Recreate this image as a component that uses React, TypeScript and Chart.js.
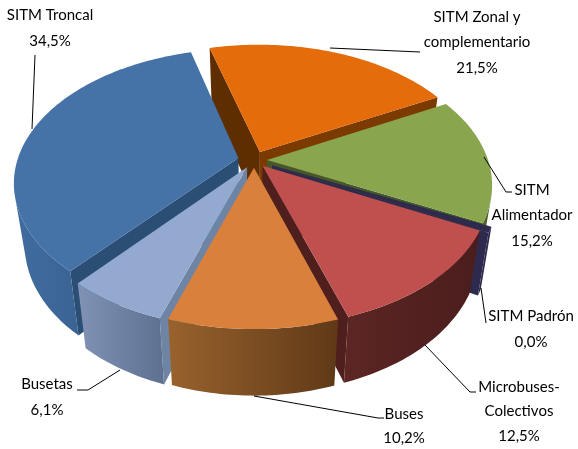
import React, { useEffect, useRef } from "react";
import { Chart, registerables } from "chart.js";

Chart.register(...registerables);

const categories = ["SITM Troncal", "SITM Zonal y complementario", "SITM Alimentador", "SITM Padrón", "Microbuses-Colectivos", "Buses", "Busetas"];
const shares = [34.5, 21.5, 15.2, 0.04, 12.5, 10.2, 6.1];
const explode = [16, 15, 13, 20, 13, 13, 14];
const topColors = ["#4572a7", "#e46c0a", "#89a54e", "#2e2a4e", "#c0504d", "#d9803c", "#93a9cf"];
const startFaceColors = ["#2b4e74", "#5f2e00", "#46582a", "#2e2a4e", "#4f1f1e", "#7a4a20", "#6e84a5"];
const endFaceColors = ["#2b4e74", "#7a3a00", "#46582a", "#2e2a4e", "#4f1f1e", "#7a4a20", "#6e84a5"];
const wallLeft = ["#416c9f", "#8a4507", "#55692f", "#2e2a4e", "#5c2624", "#99622d", "#8093b6"];
const wallRight = ["#2f5580", "#8a4507", "#4d612a", "#2e2a4e", "#4a1d1c", "#5f3917", "#5e7090"];

const labelLines = [
  ["SITM Troncal"],
  ["SITM Zonal y", "complementario"],
  ["SITM", "Alimentador"],
  ["SITM Padrón"],
  ["Microbuses-", "Colectivos"],
  ["Buses"],
  ["Busetas"],
];

const labelLayout = [
  { x: 50, y: 15, gap: 26, leader: [[35, 55], [32, 129]] },
  { x: 477, y: 17, gap: 25.5, leader: [[330, 48], [420, 52]] },
  { x: 532, y: 190, gap: 25.5, leader: [[484, 157], [506, 192], [512, 192]] },
  { x: 531, y: 316, gap: 26, leader: [[481, 288], [486, 323]] },
  { x: 519, y: 387, gap: 24.5, leader: [[425, 345], [470, 392], [476, 392]] },
  { x: 404, y: 414, gap: 24.5, leader: [[254, 396], [378, 418], [384, 418]] },
  { x: 47, y: 384, gap: 26, leader: [[120, 370], [88, 390], [77, 390]] },
];

const drawOrder = [1, 0, 2, 3, 4, 6, 5];
const VIEW = { cx: 254, cy: 160, R: 221, k: 0.585, p: 0.18, depth: 60, shrink: 0.045, minSliver: (2.5 * Math.PI) / 180 };

function project(mx: number, my: number, h: number) {
  const X = mx / VIEW.R;
  const Y = my / VIEW.R;
  const w = 1 - VIEW.p * Y;
  const sc = 1 - VIEW.shrink * h;
  return {
    x: VIEW.cx + (VIEW.R * X * sc) / w,
    y: VIEW.cy + (VIEW.R * VIEW.k * Y * sc) / w + (VIEW.depth * h) / w,
  };
}

type P = { x: number; y: number };

function fillPoly(ctx: CanvasRenderingContext2D, pts: P[], fill: string | CanvasGradient) {
  ctx.beginPath();
  pts.forEach((q, i) => (i ? ctx.lineTo(q.x, q.y) : ctx.moveTo(q.x, q.y)));
  ctx.closePath();
  ctx.fillStyle = fill;
  ctx.fill();
}

function facing(pts: P[]) {
  let a = 0;
  pts.forEach((q, i) => {
    const n = pts[(i + 1) % pts.length];
    a += q.x * n.y - n.x * q.y;
  });
  return a < 0;
}

const pie3d = {
  id: "pie3d",
  beforeDatasetsDraw(chart: any) {
    const ctx: CanvasRenderingContext2D = chart.ctx;
    const arcs = chart.getDatasetMeta(0).data;
    ctx.save();
    drawOrder.forEach((i) => {
      const arc = arcs[i];
      let a0 = arc.startAngle;
      let a1 = arc.endAngle;
      if (a1 - a0 < VIEW.minSliver) {
        const m = (a0 + a1) / 2;
        a0 = m - VIEW.minSliver / 2;
        a1 = m + VIEW.minSliver / 2;
      }
      const mid = (a0 + a1) / 2;
      const off = arc.options.offset;
      const ox = Math.cos(mid) * off;
      const oy = Math.sin(mid) * off;
      const steps = Math.max(4, Math.ceil((a1 - a0) / 0.02));
      const rim: [number, number][] = [];
      for (let s = 0; s <= steps; s++) {
        const a = a0 + ((a1 - a0) * s) / steps;
        rim.push([ox + Math.cos(a) * VIEW.R, oy + Math.sin(a) * VIEW.R]);
      }
      const top = rim.map((m) => project(m[0], m[1], 0));
      const bot = rim.map((m) => project(m[0], m[1], 1));
      const ct = project(ox, oy, 0);
      const cb = project(ox, oy, 1);

      const startFace = [ct, top[0], bot[0], cb];
      const endFace = [top[steps], ct, cb, bot[steps]];
      if (facing(startFace)) fillPoly(ctx, startFace, startFaceColors[i]);
      if (facing(endFace)) fillPoly(ctx, endFace, endFaceColors[i]);

      const xs = top.concat(bot).map((q) => q.x);
      const grad = ctx.createLinearGradient(Math.min(...xs), 0, Math.max(...xs), 0);
      grad.addColorStop(0, wallLeft[i]);
      grad.addColorStop(1, wallRight[i]);
      let run: number[] = [];
      const flush = () => {
        if (run.length > 1) {
          const upper = run.map((s) => top[s]);
          const lower = run.map((s) => bot[s]).reverse();
          fillPoly(ctx, [...upper, ...lower], grad);
        }
        run = [];
      };
      for (let s = 0; s < steps; s++) {
        if (facing([top[s], top[s + 1], bot[s + 1], bot[s]])) {
          if (!run.length) run.push(s);
          run.push(s + 1);
        } else {
          flush();
        }
      }
      flush();
      fillPoly(ctx, [ct, ...top], topColors[i]);
    });

    ctx.strokeStyle = "#000";
    ctx.lineWidth = 1;
    ctx.fillStyle = "#000";
    ctx.font = "15px Lato, sans-serif";
    ctx.textAlign = "center";
    ctx.textBaseline = "middle";
    labelLayout.forEach((layout, i) => {
      ctx.beginPath();
      layout.leader.forEach((q, j) => (j ? ctx.lineTo(q[0], q[1]) : ctx.moveTo(q[0], q[1])));
      ctx.stroke();
      const lines = [...labelLines[i], shares[i].toFixed(1).replace(".", ",") + "%"];
      lines.forEach((t, j) => ctx.fillText(t, layout.x, layout.y + j * layout.gap));
    });
    ctx.restore();
    return false;
  },
};

export default function App() {
  const ref = useRef<HTMLCanvasElement>(null);
  useEffect(() => {
    const chart = new Chart(ref.current as HTMLCanvasElement, {
      type: "pie",
      data: {
        labels: categories,
        datasets: [{ data: shares, backgroundColor: topColors, offset: explode, borderWidth: 0 }],
      },
      options: {
        animation: false,
        responsive: false,
        rotation: -139.5,
        plugins: { legend: { display: false }, tooltip: { enabled: false } },
      },
      plugins: [pie3d],
    } as any);
    return () => chart.destroy();
  }, []);
  return (
    <div style={{ position: "absolute", left: 0, top: 0, width: 578, height: 449, background: "#fff" }}>
      <canvas ref={ref} width={578} height={449} style={{ display: "block" }} />
    </div>
  );
}
